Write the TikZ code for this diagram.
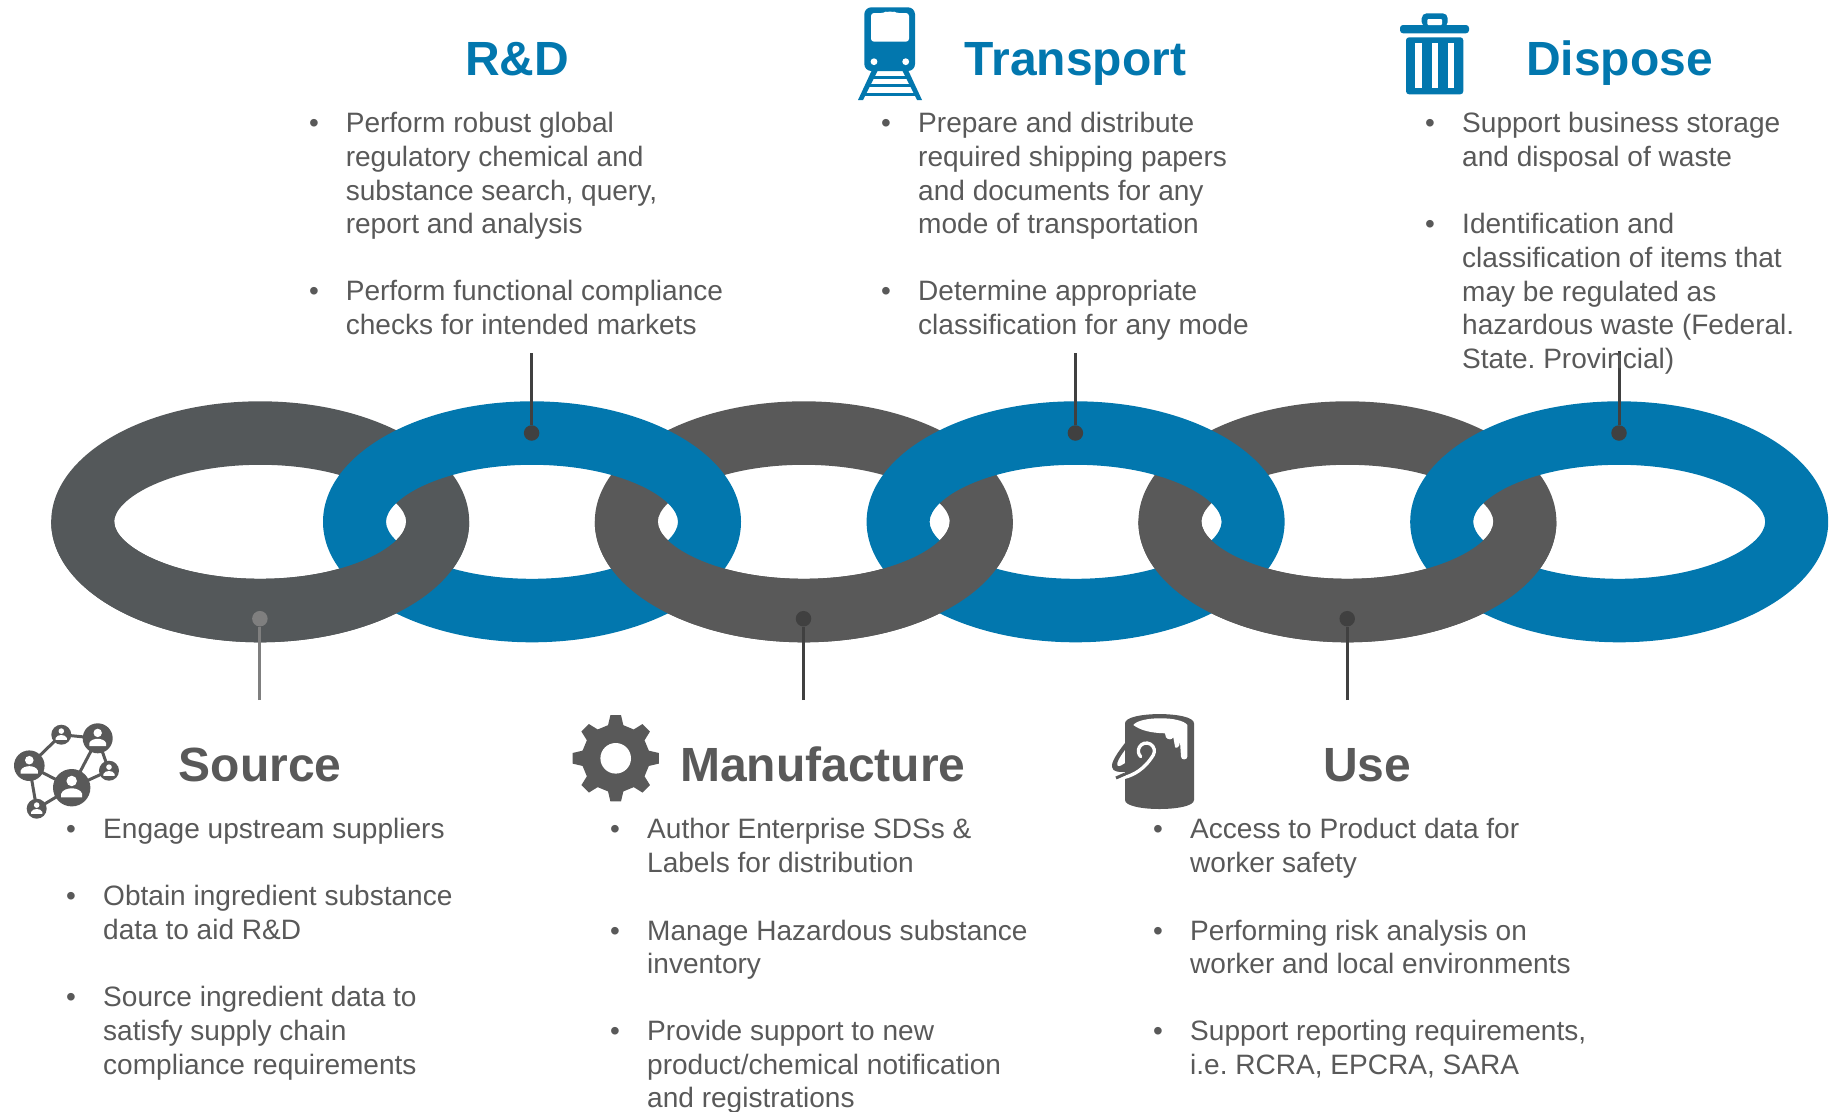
\documentclass[tikz,border=0pt]{standalone}
\usepackage{fontspec}
\setmainfont{Liberation Sans}
\usetikzlibrary{calc}
\frenchspacing
\definecolor{cblue}{HTML}{0277AE}
\definecolor{cgreyA}{HTML}{54585A}
\definecolor{cgrey}{HTML}{595959}
\definecolor{cdark}{HTML}{404040}
\definecolor{cmid}{HTML}{7F7F7F}
\tikzset{
  body/.style={anchor=north west,inner sep=0pt,align=left,text=cgrey,font=\fontsize{28.05}{33.6}\selectfont},
  bulmark/.style={anchor=base,inner sep=0pt,text=cgrey,font=\fontsize{28}{33.6}\selectfont},
  titleb/.style={anchor=base west,inner sep=0pt,text=cblue,font=\fontsize{48}{55}\selectfont\bfseries},
  titleg/.style={anchor=base west,inner sep=0pt,text=cgrey,font=\fontsize{48}{55}\selectfont\bfseries},
  dotd/.style={circle,fill=cdark,inner sep=0pt,minimum size=15.5pt},
  dotm/.style={circle,fill=cmid,inner sep=0pt,minimum size=15.5pt},
  leadd/.style={draw=cdark,line width=3pt},
  leadm/.style={draw=cmid,line width=3pt},
  netline/.style={draw=cgrey,line width=3pt}
}
\newcommand{\ringshape}[1]{(#1,521.8) ellipse [x radius=209,y radius=120.5]
  (#1-146,521.8) .. controls (#1-146,497.9) and (#1-87.6,464.8) .. (#1,464.8)
  .. controls (#1+87.6,464.8) and (#1+146,497.9) .. (#1+146,521.8)
  .. controls (#1+146,545.7) and (#1+87.6,578.8) .. (#1,578.8)
  .. controls (#1-87.6,578.8) and (#1-146,545.7) .. (#1-146,521.8) -- cycle}
\newcommand{\bul}[5]{% name, bullet x, text x, baseline y, text
  \node[bulmark] (#1b) at (#2,#4) {•};
  \node[body] (#1) at (#3,#4-23.52) {\strut #5};}
\newcommand{\person}[4]{% name, x, y, r
  \begin{scope}[shift={(#2,#3)}]
    \fill[cgrey] (0,0) circle [radius=#4];
    \begin{scope}[scale=#4]
      \fill[white] (0,-.36) circle [radius=.28];
      \fill[white] (-.56,.52) -- (-.56,.32) .. controls (-.5,.12) and (-.2,.03) .. (0,.03) .. controls (.2,.03) and (.5,.12) .. (.56,.32) -- (.56,.52) -- cycle;
    \end{scope}
  \end{scope}}
\begin{document}
\begin{tikzpicture}[x=1pt,y=-1pt]
\useasboundingbox (0,0) rectangle (1831,1111);
% rings: grey base, blue over, grey again over the lower half
\fill[cgreyA,even odd rule] \ringshape{260.2};
\fill[cgrey,even odd rule] \ringshape{803.8};
\fill[cgrey,even odd rule] \ringshape{1347.4};
\fill[cblue,even odd rule] \ringshape{532};
\fill[cblue,even odd rule] \ringshape{1075.6};
\fill[cblue,even odd rule] \ringshape{1619.2};
\begin{scope}
  \clip (0,521.8) rectangle (1831,660);
  \fill[cgreyA,even odd rule] \ringshape{260.2};
  \fill[cgrey,even odd rule] \ringshape{803.8};
  \fill[cgrey,even odd rule] \ringshape{1347.4};
\end{scope}
% connectors
\coordinate (t1) at (531.6,353);
\coordinate (t2) at (1075.4,353);
\coordinate (t3) at (1619,351);
\coordinate (b1) at (259.9,700);
\coordinate (b2) at (803.5,700);
\coordinate (b3) at (1347.2,700);
\node[dotd] (d1) at (531.6,433) {};
\node[dotd] (d2) at (1075.4,433) {};
\node[dotd] (d3) at (1619,433) {};
\node[dotm] (d4) at (259.9,618.7) {};
\node[dotd] (d5) at (803.5,618.7) {};
\node[dotd] (d6) at (1347.2,618.7) {};
\draw[leadd] (t1) -- (d1);
\draw[leadd] (t2) -- (d2);
\draw[leadd] (t3) -- (d3);
\draw[leadm] (b1) -- (d4);
\draw[leadd] (b2) -- (d5);
\draw[leadd] (b3) -- (d6);
% titles
\node[titleb] (tRD) at (465,75.5) {R\&D};
\node[titleb] (tTr) at (964.5,75.5) {Transport};
\node[titleb] (tDi) at (1526,75.5) {Dispose};
\node[titleg] (tSo) at (178.7,781.3) {Source};
\node[titleg] (tMa) at (680,781.3) {Manufacture};
\node[titleg] (tUs) at (1323,781.3) {Use};
% R&D
\bul{rdA}{314}{345.6}{132.6}{Perform robust global\\regulatory chemical and\\substance search, query,\\report and analysis}
\bul{rdB}{314}{345.6}{300.3}{Perform functional compliance\\checks for intended markets}
% Transport
\bul{trA}{886}{918}{132.6}{Prepare and distribute\\required shipping papers\\and documents for any\\mode of transportation}
\bul{trB}{886}{918}{300.3}{Determine appropriate\\classification for any mode}
% Dispose
\bul{diA}{1430}{1462}{132.6}{Support business storage\\and disposal of waste}
\bul{diB}{1430}{1462}{233.6}{Identification and\\classification of items that\\may be regulated as\\hazardous waste (Federal.\\State. Provincial)}
% Source
\bul{soA}{71}{103}{838.6}{Engage upstream suppliers}
\bul{soB}{71}{103}{905.4}{Obtain ingredient substance\\data to aid R\&D}
\bul{soC}{71}{103}{1006.6}{Source ingredient data to\\satisfy supply chain\\compliance requirements}
% Manufacture
\bul{maA}{615}{647}{838.6}{Author Enterprise SDSs \&\\Labels for distribution}
\bul{maB}{615}{647}{940}{Manage Hazardous substance\\inventory}
\bul{maC}{615}{647}{1040.4}{Provide support to new\\product/chemical notification\\and registrations}
% Use
\bul{usA}{1158}{1190}{838.6}{Access to Product data for\\worker safety}
\bul{usB}{1158}{1190}{940}{Performing risk analysis on\\worker and local environments}
\bul{usC}{1158}{1190}{1040.4}{Support reporting requirements,\\i.e. RCRA, EPCRA, SARA}
% network icon
\coordinate (nBig) at (71.7,787.7);
\coordinate (nLeft) at (29.3,765.7);
\coordinate (nTR) at (97.7,738.3);
\coordinate (nTS) at (61.3,734.7);
\coordinate (nRS) at (109,770.7);
\coordinate (nBS) at (36.7,808.7);
\draw[netline] (nLeft) -- (nTS) -- (nTR) -- (nBig) -- (nLeft) -- (nBS) -- (nBig) -- (nRS) -- (nTR);
\person{a}{71.7}{787.7}{18.7}
\person{b}{29.3}{765.7}{15.3}
\person{c}{97.7}{738.3}{15}
\person{d}{61.3}{734.7}{10}
\person{e}{109}{770.7}{10}
\person{f}{36.7}{808.7}{10}
% gear icon
\fill[cgrey,shift={(615.7,758.3)}] (-13:34) \foreach \a in {0,45,...,315}{ -- (\a-13:34) -- (\a-7:43.5) -- (\a+7:43.5) -- (\a+13:34) } -- cycle;
\fill[white] (615.7,758.3) circle [radius=15.3];
% paint can icon
\fill[cgrey] (1127,741) -- (1125,743) .. controls (1118,752) and (1111,762) .. (1112,767) .. controls (1113,772) and (1118,772) .. (1127,772) -- cycle;
\fill[white] (1125,750) .. controls (1120,757) and (1116,763) .. (1117.5,765.5) .. controls (1119,767) and (1122,765) .. (1125,763) -- cycle;
\fill[cgrey] (1125,723.3) .. controls (1125,711) and (1194,711) .. (1194,723.3) -- (1194,800) .. controls (1194,812) and (1125,812) .. (1125,800) -- cycle;
\fill[white] (1133.3,725) .. controls (1140,716) and (1181,716) .. (1187.3,725) -- (1187.3,756.7) .. controls (1187.3,760.3) and (1181,760.3) .. (1181,756.7) -- (1180,741.7) .. controls (1180,748) and (1175,749) .. (1175,746.7) -- (1173.3,737.3) .. controls (1172,740) and (1168,740) .. (1166,737.3) -- (1165,733.3) .. controls (1150,733) and (1140,730) .. (1133.3,725) -- cycle;
\draw[white,line width=3.3pt,line cap=round] (1125,777.3) .. controls (1133,775) and (1144,770) .. (1153.3,755) arc [start angle=30,end angle=-225,radius=8];
\draw[cgrey,line width=3pt] (1116,778) -- (1125,774);
% train icon
\fill[cblue,rounded corners=7pt] (864.3,7.3) rectangle (915,71);
\fill[white,rounded corners=3pt] (871,13) -- (884,13) -- (886,11.7) -- (894,11.7) -- (896,13) -- (909,13) -- (909,41.7) -- (871,41.7) -- cycle;
\fill[white] (874,61.7) circle [radius=3.4];
\fill[white] (905.7,61.7) circle [radius=3.4];
\fill[cblue] (871.5,71) -- (877.5,71) -- (863,100) -- (858,100) -- cycle;
\fill[cblue] (902.5,71) -- (908.5,71) -- (922,100) -- (917,100) -- cycle;
\fill[cblue] (872.5,76) rectangle (907.5,79);
\fill[cblue] (868,84.3) rectangle (912,87.3);
\fill[cblue] (864,92.7) rectangle (916,95.7);
% bin icon
\fill[cblue,rounded corners=3pt] (1400,33.3) -- (1400,25) -- (1469,25) -- (1469,33.3) -- cycle;
\fill[cblue,rounded corners=5pt] (1421.7,27) -- (1421.7,13.3) -- (1447.7,13.3) -- (1447.7,27) -- cycle;
\fill[white,rounded corners=1pt] (1427.3,25) -- (1427.3,19) -- (1442,19) -- (1442,25) -- cycle;
\fill[cblue,rounded corners=3pt] (1406,37.3) -- (1406,94.3) -- (1463.3,94.3) -- (1463.3,37.3) -- cycle;
\fill[white] (1415,43.3) rectangle (1421.7,88.3);
\fill[white] (1431.7,43.3) rectangle (1437.7,88.3);
\fill[white] (1447.7,43.3) rectangle (1454,88.3);
\end{tikzpicture}
\end{document}
